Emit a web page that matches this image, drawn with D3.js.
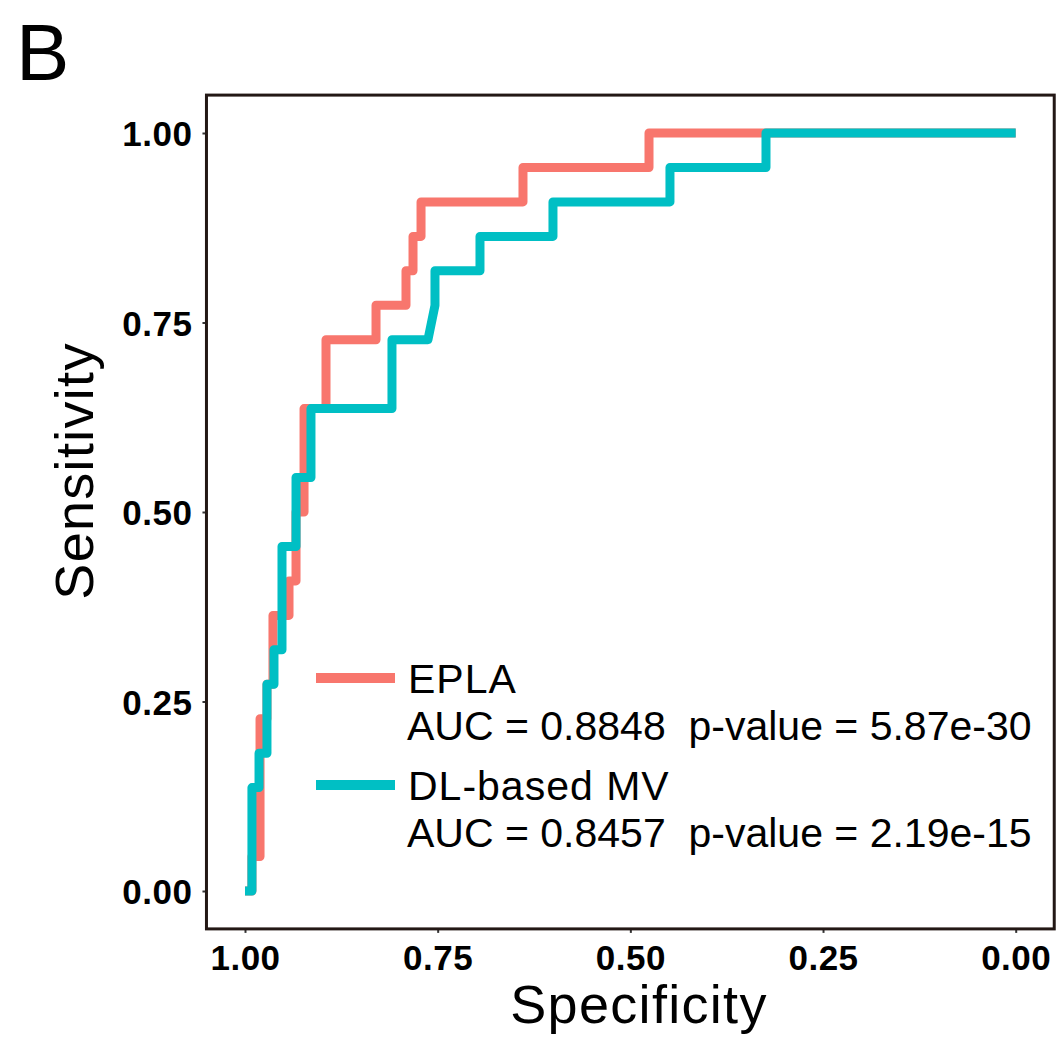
<!DOCTYPE html>
<html>
<head>
<meta charset="utf-8">
<script src="https://cdn.jsdelivr.net/npm/d3@7"></script>
<style>
  html, body { margin: 0; padding: 0; background: #ffffff; }
  svg { display: block; font-family: "Liberation Sans", Arial, Helvetica, sans-serif; }
</style>
</head>
<body>
<svg id="chart" width="1061" height="1039"></svg>
<script>
// ROC curve vertices (specificity, sensitivity) for each model
const eplaSpec = [1, 0.991, 0.991, 0.9805, 0.9805, 0.9715, 0.9715, 0.9637, 0.9637, 0.9429, 0.9429, 0.9338, 0.9338, 0.9234, 0.9234, 0.8949, 0.8949, 0.830, 0.830, 0.7911, 0.7911, 0.782, 0.782, 0.7716, 0.7716, 0.6393, 0.6393, 0.4758, 0.4758, 0];
const eplaSens = [0, 0, 0.0455, 0.0455, 0.2273, 0.2273, 0.2727, 0.2727, 0.3636, 0.3636, 0.4091, 0.4091, 0.5, 0.5, 0.6364, 0.6364, 0.7273, 0.7273, 0.7727, 0.7727, 0.8182, 0.8182, 0.8636, 0.8636, 0.9091, 0.9091, 0.9545, 0.9545, 1, 1];

const dlSpec = [1, 0.991, 0.991, 0.9818, 0.9818, 0.9715, 0.9715, 0.9624, 0.9624, 0.952, 0.952, 0.9338, 0.9338, 0.9144, 0.9144, 0.8093, 0.8093, 0.7626, 0.7535, 0.7535, 0.6951, 0.6951, 0.6004, 0.6004, 0.4486, 0.4486, 0.324, 0.324, 0];
const dlSens = [0, 0, 0.1364, 0.1364, 0.1818, 0.1818, 0.2727, 0.2727, 0.3182, 0.3182, 0.4545, 0.4545, 0.5455, 0.5455, 0.6364, 0.6364, 0.7273, 0.7273, 0.7727, 0.8182, 0.8182, 0.8636, 0.8636, 0.9091, 0.9091, 0.9545, 0.9545, 1, 1];

const seriesNames = ["EPLA", "DL-based MV"];
const seriesAUC = ["0.8848", "0.8457"];
const seriesP = ["5.87e-30", "2.19e-15"];
const seriesColors = ["#F8766D", "#00BFC4"];

const tickValues = [1.00, 0.75, 0.50, 0.25, 0.00];
const tickLabels = ["1.00", "0.75", "0.50", "0.25", "0.00"];

const panelLabel = "B";
const xTitle = "Specificity";
const yTitle = "Sensitivity";

const svg = d3.select("#chart");

// panel geometry (data range plus 5% padding on each side)
const x = d3.scaleLinear().domain([1, 0]).range([245, 1015.7]);
const y = d3.scaleLinear().domain([0, 1]).range([891, 133]);
const padX = (x.range()[1] - x.range()[0]) * 0.05;
const padY = (y.range()[0] - y.range()[1]) * 0.05;
const panelLeft = x.range()[0] - padX, panelRight = x.range()[1] + padX;
const panelTop = y.range()[1] - padY, panelBottom = y.range()[0] + padY;

const frameColor = "#231815";

// axes with short outward ticks
const xAxis = d3.axisBottom(x).tickValues(tickValues)
  .tickFormat((d, i) => tickLabels[i]).tickSize(4).tickPadding(12);
const yAxis = d3.axisLeft(y).tickValues(tickValues)
  .tickFormat((d, i) => tickLabels[i]).tickSize(4).tickPadding(10);

const gx = svg.append("g").attr("transform", `translate(0,${panelBottom})`).call(xAxis);
const gy = svg.append("g").attr("transform", `translate(${panelLeft},0)`).call(yAxis);
[gx, gy].forEach(g => {
  g.select(".domain").remove();
  g.selectAll(".tick line").attr("stroke", "#333333").attr("stroke-width", 2);
  g.selectAll(".tick text")
    .attr("fill", "#000000")
    .style("font-size", "35px")
    .style("font-weight", "bold")
    .style("letter-spacing", "0.5px");
});
gx.selectAll(".tick text").attr("dy", "0.71em");
gy.selectAll(".tick text").attr("dy", "0.36em");

// curves: EPLA underneath, DL-based MV on top
const line = d3.line().x(d => x(d[0])).y(d => y(d[1]));
const curves = [
  d3.zip(eplaSpec, eplaSens),
  d3.zip(dlSpec, dlSens)
];
curves.forEach((pts, i) => {
  svg.append("path")
    .datum(pts)
    .attr("d", line)
    .attr("fill", "none")
    .attr("stroke", seriesColors[i])
    .attr("stroke-width", 9)
    .attr("stroke-linejoin", "round")
    .attr("stroke-linecap", "butt");
});

// panel border
svg.append("rect")
  .attr("x", panelLeft).attr("y", panelTop)
  .attr("width", panelRight - panelLeft).attr("height", panelBottom - panelTop)
  .attr("fill", "none")
  .attr("stroke", frameColor)
  .attr("stroke-width", 3);

// legend inside the panel
const legendRows = [678, 785];
seriesNames.forEach((name, i) => {
  const ly = legendRows[i];
  svg.append("line")
    .attr("x1", 316).attr("x2", 395)
    .attr("y1", ly).attr("y2", ly)
    .attr("stroke", seriesColors[i])
    .attr("stroke-width", 10);
  svg.append("text")
    .attr("x", 408).attr("y", ly + 15)
    .style("font-size", "41px")
    .style("letter-spacing", "1px")
    .attr("fill", "#000")
    .text(name);
  svg.append("text")
    .attr("x", 407).attr("y", ly + 62)
    .style("font-size", "41px")
    .attr("fill", "#000")
    .attr("xml:space", "preserve")
    .style("white-space", "pre")
    .text(`AUC = ${seriesAUC[i]}  p-value = ${seriesP[i]}`);
});

// axis titles
svg.append("text")
  .attr("x", 639).attr("y", 1023)
  .attr("text-anchor", "middle")
  .style("font-size", "54px")
  .style("letter-spacing", "1.3px")
  .attr("fill", "#000")
  .text(xTitle);

svg.append("text")
  .attr("transform", "translate(93,471) rotate(-90)")
  .attr("text-anchor", "middle")
  .style("font-size", "54px")
  .style("letter-spacing", "1.3px")
  .attr("fill", "#000")
  .text(yTitle);

// panel letter
svg.append("text")
  .attr("x", 16).attr("y", 80)
  .style("font-size", "80px")
  .attr("fill", "#000")
  .text(panelLabel);
</script>
</body>
</html>
